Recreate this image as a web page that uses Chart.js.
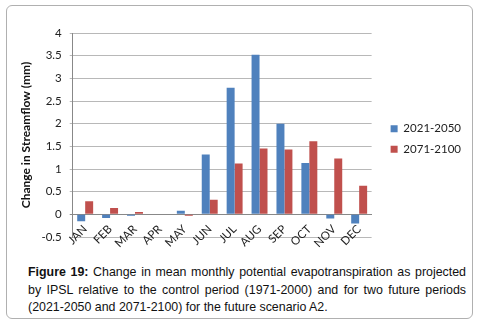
<!DOCTYPE html>
<html>
<head>
<meta charset="utf-8">
<script src="https://cdn.jsdelivr.net/npm/chart.js@4"></script>
<style>
  body { margin: 0; background: #fff; }
  #box {
    position: absolute; left: 6px; top: 5px; width: 467px; height: 314px;
    border: 1px solid #b0b0b0; border-radius: 6px; box-sizing: border-box;
  }
  #wrap { position: absolute; left: 2px; top: 1px; width: 462px; height: 248px; }
  #caption {
    position: absolute; left: 21px; top: 258px; width: 438px;
    font-family: "Liberation Sans", Arial, sans-serif; font-size: 12.4px; line-height: 17.5px;
    text-align: justify; color: #111; margin: 0;
  }
</style>
</head>
<body>
<div id="box">
  <div id="wrap"><canvas id="chart"></canvas></div>
  <p id="caption"><b>Figure 19:</b> Change in mean monthly potential evapotranspiration as projected by IPSL relative to the control period (1971-2000) and for two future periods (2021-2050 and 2071-2100) for the future scenario A2.</p>
</div>
<script>
const months = ['JAN', 'FEB', 'MAR', 'APR', 'MAY', 'JUN', 'JUL', 'AUG', 'SEP', 'OCT', 'NOV', 'DEC'];
const period2021 = [-0.15, -0.08, -0.03, -0.01, 0.08, 1.32, 2.79, 3.52, 2.0, 1.13, -0.09, -0.2];
const period2071 = [0.29, 0.14, 0.05, -0.01, -0.03, 0.32, 1.12, 1.45, 1.43, 1.61, 1.23, 0.63];

// push the legend a bit right and down, away from the plot
const legendShift = {
    id: 'legendShift',
    afterLayout(chart) {
        const l = chart.legend;
        l.left += 10; l.right += 10;
        l.top += 4; l.bottom += 4;
    }
};

const ctx = document.getElementById('chart');
new Chart(ctx, {
    type: 'bar',
    data: {
        labels: months,
        datasets: [
            { label: '2021-2050', data: period2021, backgroundColor: '#4F81BD' },
            { label: '2071-2100', data: period2071, backgroundColor: '#C0504D' }
        ]
    },
    plugins: [legendShift],
    options: {
        responsive: true,
        maintainAspectRatio: false,
        animation: false,
        layout: { padding: { left: 10, top: 26, right: 10, bottom: 18 } },
        datasets: { bar: { barPercentage: 1, categoryPercentage: 0.64 } },
        plugins: {
            legend: {
                position: 'right',
                labels: {
                    boxWidth: 7, boxHeight: 7, padding: 9,
                    color: '#222',
                    font: { family: 'Lato', size: 11.5 }
                }
            },
            tooltip: { enabled: false }
        },
        scales: {
            x: {
                position: { y: 0 },
                grid: { display: false },
                border: { color: '#888' },
                ticks: {
                    autoSkip: false,
                    minRotation: 45, maxRotation: 45, color: '#222',
                    font: { family: 'Lato', size: 11.5 }, padding: 0
                }
            },
            y: {
                min: -0.5, max: 4,
                ticks: {
                    stepSize: 0.5, color: '#222', padding: 8,
                    font: { family: 'Lato', size: 11.5 },
                    callback: (v) => String(v)
                },
                grid: {
                    color: (c) => c.tick && c.tick.value === 0 ? '#888' : '#b8b8b8',
                    tickLength: 3
                },
                border: { color: '#888' },
                title: {
                    display: true, text: 'Change in Streamflow (mm)', color: '#111',
                    padding: 0,
                    font: { family: 'Lato', size: 12, weight: 'bold' }
                }
            }
        }
    }
});
</script>
</body>
</html>
